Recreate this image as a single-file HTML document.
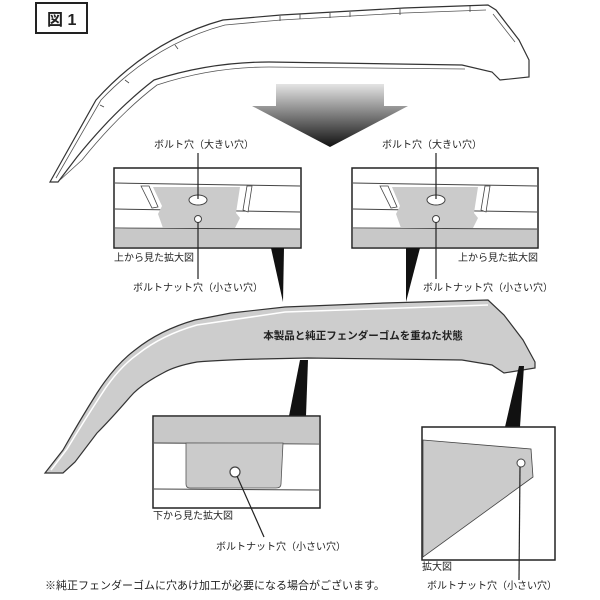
<!DOCTYPE html>
<html><head><meta charset="utf-8"><style>
html,body{margin:0;padding:0;background:#fff}
svg{display:block}
text{font-family:"Liberation Sans","Noto Sans CJK JP",sans-serif;fill:#222}
</style></head><body>
<svg width="600" height="600" viewBox="0 0 600 600" xmlns="http://www.w3.org/2000/svg">
<defs>
<linearGradient id="ag" x1="0" y1="0" x2="0" y2="1">
<stop offset="0" stop-color="#e4e4e4"/><stop offset="1" stop-color="#111"/>
</linearGradient>
</defs>
<rect x="36" y="3" width="51" height="30" fill="#fff" stroke="#222" stroke-width="2"/>
<text x="47" y="25" font-size="16" font-weight="bold">図 1</text>

<!-- top fender -->
<path d="M50,182 L96,100 Q150,40 223,20 L281,15 L404,8 L488,5 L496,10 L519,40 L529,60 L529,77 L500,80 L492,72 L462,65 L269,62 Q210,62 154,80 Q115,110 77,157 L58,182 Z" fill="#fff" stroke="#333" stroke-width="1.2"/>
<path d="M56,178 L101,100 Q154,44 225,25 L281,20 L404,13 L486,10 M493,14 L515,42 M465,69 L269,67 Q212,67 157,85 Q119,114 82,160 L60,180" fill="none" stroke="#555" stroke-width="0.8"/>
<g stroke="#444" stroke-width="0.8" fill="none">
<path d="M280,16 v5 M300,14 v5 M330,13 v5 M350,12 v5 M400,9 v6 M470,6 v6 M175,45 l3,4 M125,80 l4,3 M100,105 l4,2"/>
</g>

<path d="M276,84 L384,84 L384,106 L408,106 L330,147 L252,106 L276,106 Z" fill="url(#ag)"/>

<!-- left top box -->
<text x="204" y="148" font-size="10" text-anchor="middle">ボルト穴（大きい穴）</text>
<rect x="114" y="168" width="187" height="80" fill="#fff" stroke="#222" stroke-width="1.5"/>
<rect x="115" y="229" width="185" height="18" fill="#c8c8c8"/>
<line x1="115" y1="183" x2="300" y2="186" stroke="#444"/>
<line x1="115" y1="209" x2="300" y2="212" stroke="#444"/>
<line x1="115" y1="228" x2="300" y2="229" stroke="#444"/>
<path d="M153,187 L240,187 L236,213 L240,218 L235,228 L163,228 L158,214 L162,206 Z" fill="#cbcbcb"/>
<path d="M141,186 L152,208 L158,207 L149,186 Z M247,186 L243,210 L248,212 L252,186 Z" fill="#fff" stroke="#444" stroke-width="0.8"/>
<ellipse cx="198" cy="200" rx="9" ry="5" fill="#fff" stroke="#444"/>
<circle cx="198" cy="219" r="3.5" fill="#fff" stroke="#444"/>
<line x1="198" y1="153" x2="198" y2="199" stroke="#222" stroke-width="1.2"/>
<line x1="198" y1="222" x2="198" y2="279" stroke="#222" stroke-width="1.2"/>
<text x="114" y="261" font-size="10">上から見た拡大図</text>
<text x="133" y="291" font-size="10">ボルトナット穴（小さい穴）</text>
<path d="M271,248 L284,248 L283,302 Z" fill="#111"/>

<!-- right top box -->
<text x="432" y="148" font-size="10" text-anchor="middle">ボルト穴（大きい穴）</text>
<rect x="352" y="168" width="186" height="80" fill="#fff" stroke="#222" stroke-width="1.5"/>
<rect x="353" y="229" width="184" height="18" fill="#c8c8c8"/>
<line x1="353" y1="183" x2="537" y2="186" stroke="#444"/>
<line x1="353" y1="209" x2="537" y2="212" stroke="#444"/>
<line x1="353" y1="228" x2="537" y2="229" stroke="#444"/>
<path d="M392,187 L478,187 L474,213 L478,218 L473,228 L401,228 L396,214 L400,206 Z" fill="#cbcbcb"/>
<path d="M380,186 L391,208 L397,207 L388,186 Z M485,186 L481,210 L486,212 L490,186 Z" fill="#fff" stroke="#444" stroke-width="0.8"/>
<ellipse cx="436" cy="200" rx="9" ry="5" fill="#fff" stroke="#444"/>
<circle cx="436" cy="219" r="3.5" fill="#fff" stroke="#444"/>
<line x1="436" y1="153" x2="436" y2="199" stroke="#222" stroke-width="1.2"/>
<line x1="436" y1="222" x2="436" y2="279" stroke="#222" stroke-width="1.2"/>
<text x="538" y="261" font-size="10" text-anchor="end">上から見た拡大図</text>
<text x="423" y="291" font-size="10">ボルトナット穴（小さい穴）</text>
<path d="M406,248 L420,248 L406,302 Z" fill="#111"/>

<!-- middle fender -->
<path d="M45,473 L63,450 Q80,420 97,393 Q115,365 135,350 Q160,330 195,320 L231,313 L285,307 L385,303 L488,300 L504,315 L523,340 L535,362 L535,368 L504,373 L492,365 L462,360 L308,358 L260,359 Q220,360 197,362 Q175,366 163,373 Q140,385 130,397 Q110,420 97,433 L75,462 L63,473 Z" fill="#cdcdcd" stroke="#333" stroke-width="1.2"/>
<path d="M51,470 L67,449 Q84,421 101,395 Q118,368 138,354 Q162,335 197,325 L285,312 L488,305 M463,364 L308,362 L260,363 Q220,364 198,366 Q177,370 166,377 Q143,389 133,401 Q113,424 100,437 L79,465" fill="none" stroke="#fff" stroke-width="1.5"/>
<text x="363" y="339" font-size="10.5" text-anchor="middle" font-weight="bold">本製品と純正フェンダーゴムを重ねた状態</text>
<path d="M300,360 L308,360 L306,416 L289,416 Z" fill="#111"/>
<path d="M519,366 L524,366 L520,427 L505,427 Z" fill="#111"/>

<!-- lower left box -->
<rect x="153" y="416" width="167" height="92" fill="#fff" stroke="#222" stroke-width="1.5"/>
<rect x="154" y="417" width="165" height="26" fill="#c8c8c8"/>
<line x1="154" y1="443" x2="319" y2="444" stroke="#444"/>
<line x1="154" y1="489" x2="319" y2="490" stroke="#444"/>
<path d="M186,443 L283,443 L281,484 Q281,488 276,488 L190,488 Q186,488 186,484 Z" fill="#cbcbcb" stroke="#555" stroke-width="0.8"/>
<circle cx="235" cy="472" r="5" fill="#fff" stroke="#444" stroke-width="1.2"/>
<line x1="237" y1="476" x2="264" y2="537" stroke="#222" stroke-width="1.2"/>
<text x="153" y="519" font-size="10">下から見た拡大図</text>
<text x="216" y="550" font-size="10">ボルトナット穴（小さい穴）</text>

<!-- lower right box -->
<rect x="422" y="427" width="133" height="133" fill="#fff" stroke="#222" stroke-width="1.5"/>
<path d="M423,440 L531,449 L533,477 L423,557 Z" fill="#cbcbcb" stroke="#444" stroke-width="0.8"/>
<circle cx="521" cy="463" r="4" fill="#fff" stroke="#444"/>
<line x1="520" y1="467" x2="519" y2="580" stroke="#222" stroke-width="1.2"/>
<text x="422" y="570" font-size="10">拡大図</text>
<text x="427" y="589" font-size="10">ボルトナット穴（小さい穴）</text>

<text x="45" y="589" font-size="11">※純正フェンダーゴムに穴あけ加工が必要になる場合がございます。</text>
</svg>
</body></html>
